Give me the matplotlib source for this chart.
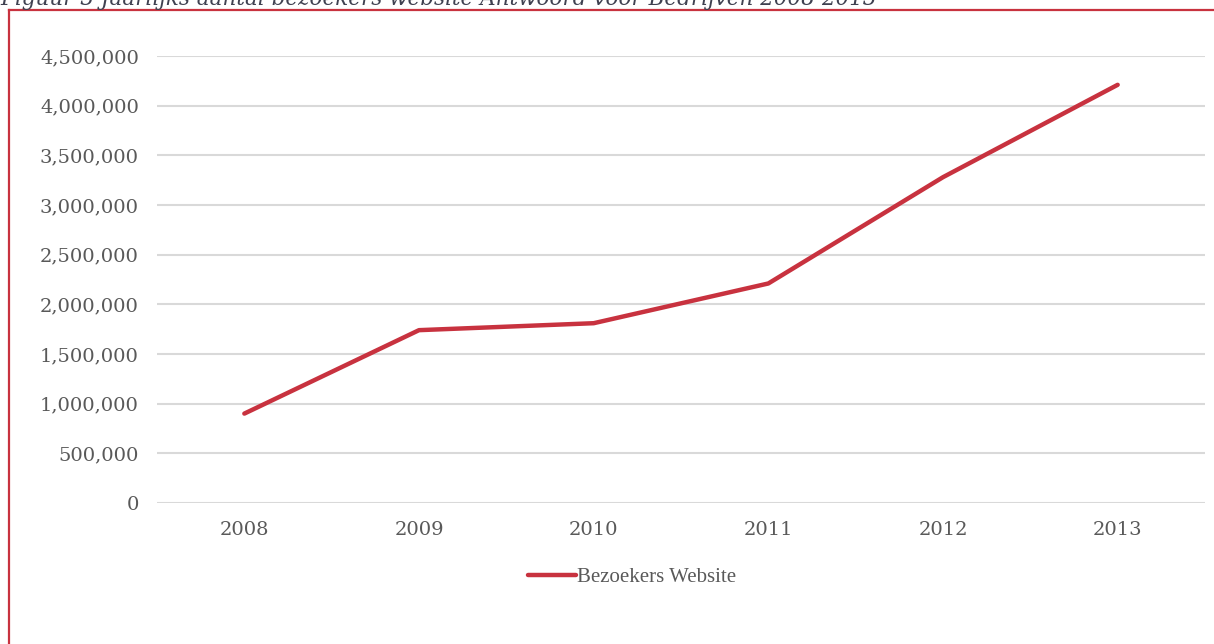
import matplotlib
matplotlib.use("Agg")
import matplotlib.pyplot as plt
from matplotlib.ticker import FuncFormatter, MultipleLocator
from matplotlib.lines import Line2D

years = ["2008", "2009", "2010", "2011", "2012", "2013"]
visitors = [900000, 1740000, 1810000, 2210000, 3280000, 4210000]
series_name = "Bezoekers Website"
title = "Figuur 3 Jaarlijks aantal bezoekers website Antwoord voor Bedrijven 2008-2013"

W, H = 1214, 644
fig = plt.figure(figsize=(W / 100, H / 100), dpi=100)
fig.patch.set_facecolor("white")

red = "#C8323F"
grid_c = "#D9D9D9"
txt_c = "#595959"

# cut-off caption at the very top (as in the reference)
fig.text(0 / W, 1 + 1.5 / H, title, ha="left", va="center", style="italic",
         family="DejaVu Serif", fontsize=15.5, color="#3F4150")

# red frame (left and top)
fig.add_artist(Line2D([9 / W, 9 / W], [0, 1 - 10 / H], transform=fig.transFigure,
                      color=red, lw=1.6))
fig.add_artist(Line2D([9 / W, 1], [1 - 10 / H, 1 - 10 / H], transform=fig.transFigure,
                      color=red, lw=1.6))

left, right = 157 / W, 1205 / W
bottom, top = 1 - 503 / H, 1 - 56 / H
ax = fig.add_axes([left, bottom, right - left, top - bottom])

x = list(range(len(years)))
ax.plot(x, visitors, color=red, lw=3.2, solid_capstyle="round",
        solid_joinstyle="round", label=series_name, zorder=3)

ax.set_xlim(-0.5, len(years) - 0.5)
ax.set_ylim(0, 4500000)
ax.yaxis.set_major_locator(MultipleLocator(500000))
ax.yaxis.set_major_formatter(FuncFormatter(lambda v, p: f"{int(v):,}"))
ax.set_xticks(x)
ax.set_xticklabels(years)

for s in ax.spines.values():
    s.set_visible(False)
ax.grid(axis="y", color=grid_c, lw=1.5)
ax.set_axisbelow(True)
ax.tick_params(axis="both", length=0, colors=txt_c, labelsize=14)
ax.tick_params(axis="y", pad=13)
ax.tick_params(axis="x", pad=13)
for lab in ax.get_xticklabels() + ax.get_yticklabels():
    lab.set_family("DejaVu Serif")

leg = fig.legend(loc="center", bbox_to_anchor=(632 / W, 1 - 577 / H), frameon=False,
                 prop={"family": "Liberation Serif", "size": 15}, handlelength=2.3,
                 handletextpad=0.05, labelcolor=txt_c)

fig.savefig("out.png", dpi=100, facecolor="white")
